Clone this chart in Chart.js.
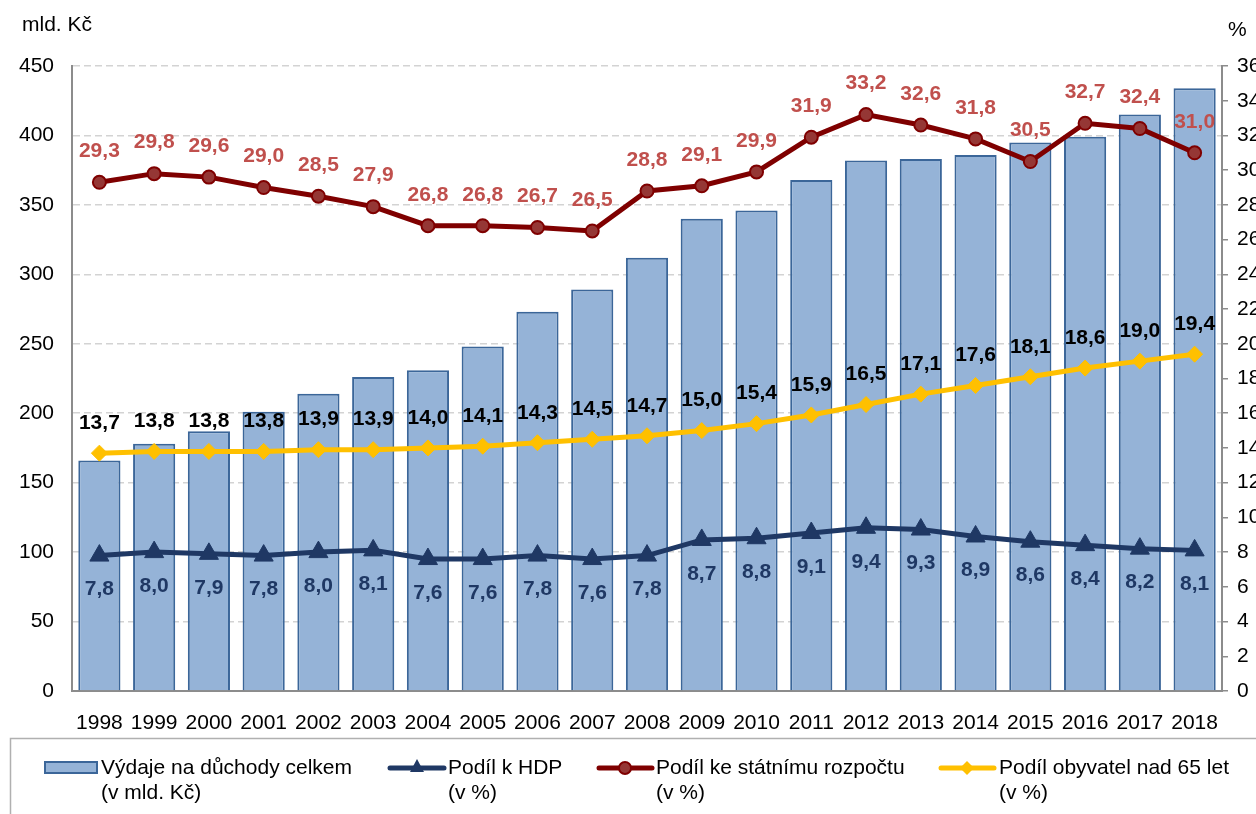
<!DOCTYPE html>
<html>
<head>
<meta charset="utf-8">
<script src="https://cdn.jsdelivr.net/npm/chart.js@4"></script>
<style>
  html, body { margin: 0; padding: 0; background: #fff; }
  #wrap { width: 1256px; height: 814px; position: relative; }
</style>
</head>
<body>
<div id="wrap"><canvas id="duchodyChart" width="1256" height="814"></canvas></div>
<script>
const years = ['1998', '1999', '2000', '2001', '2002', '2003', '2004', '2005', '2006', '2007', '2008',
    '2009', '2010', '2011', '2012', '2013', '2014', '2015', '2016', '2017', '2018'];
// výdaje na důchody celkem (mld. Kč)
const vydaje = [166, 178, 187, 201, 214, 226, 231, 248, 273, 289, 312, 340, 346, 368, 382, 383, 386, 395, 399, 415, 434];
// podíl k HDP (%)
const podilHdp = [7.8, 8.0, 7.9, 7.8, 8.0, 8.1, 7.6, 7.6, 7.8, 7.6, 7.8, 8.7, 8.8, 9.1, 9.4, 9.3, 8.9, 8.6, 8.4, 8.2, 8.1];
// podíl ke státnímu rozpočtu (%)
const podilRozpocet = [29.3, 29.8, 29.6, 29.0, 28.5, 27.9, 26.8, 26.8, 26.7, 26.5, 28.8, 29.1, 29.9, 31.9, 33.2, 32.6, 31.8, 30.5, 32.7, 32.4, 31.0];
// podíl obyvatel nad 65 let (%)
const podil65 = [13.7, 13.8, 13.8, 13.8, 13.9, 13.9, 14.0, 14.1, 14.3, 14.5, 14.7, 15.0, 15.4, 15.9, 16.5, 17.1, 17.6, 18.1, 18.6, 19.0, 19.4];

const FONT = "'Liberation Sans', Arial, sans-serif";
const fmt = (v) => v.toFixed(1).replace('.', ',');

// data labels for the line series
const lineLabels = {
    id: 'lineLabels',
    afterDatasetsDraw(chart) {
        const ctx = chart.ctx;
        ctx.save();
        ctx.font = 'bold 21px ' + FONT;
        ctx.textAlign = 'center';
        ctx.textBaseline = 'middle';
        chart.data.datasets.forEach((ds, i) => {
            if (!ds.labelColor) return;
            const meta = chart.getDatasetMeta(i);
            meta.data.forEach((pt, j) => {
                ctx.fillStyle = ds.labelColor;
                ctx.fillText(fmt(ds.data[j]), pt.x, pt.y + ds.labelOffset);
            });
        });
        ctx.restore();
    }
};

// axis units + legend box
const extras = {
    id: 'extras',
    afterDraw(chart) {
        const ctx = chart.ctx;
        ctx.save();
        ctx.font = '21px ' + FONT;
        ctx.fillStyle = '#000';
        ctx.textBaseline = 'middle';
        ctx.textAlign = 'left';
        ctx.fillText('mld. Kč', 22, 25);
        ctx.fillText('%', 1228, 30);

        // legend frame
        ctx.strokeStyle = '#b0b0b0';
        ctx.lineWidth = 1.5;
        ctx.strokeRect(10.5, 738.5, 1270, 100);

        const y1 = 768, y2 = 793;
        // bar swatch
        ctx.fillStyle = '#95B3D7';
        ctx.fillRect(45, 762, 52, 11);
        ctx.strokeStyle = '#3B6699';
        ctx.lineWidth = 2;
        ctx.strokeRect(45, 762, 52, 11);

        const drawLine = (x0, x1, color, w) => {
            ctx.strokeStyle = color;
            ctx.lineWidth = w;
            ctx.lineCap = 'round';
            ctx.beginPath();
            ctx.moveTo(x0, y1);
            ctx.lineTo(x1, y1);
            ctx.stroke();
        };
        // HDP
        drawLine(390, 444, '#1F3864', 5);
        ctx.fillStyle = '#1F3864';
        ctx.beginPath();
        ctx.moveTo(417, y1 - 9); ctx.lineTo(424, y1 + 4); ctx.lineTo(410, y1 + 4); ctx.closePath();
        ctx.fill();
        // rozpočet
        drawLine(599, 652, '#7F0000', 5);
        ctx.fillStyle = '#953735';
        ctx.strokeStyle = '#7F0000';
        ctx.lineWidth = 2;
        ctx.beginPath(); ctx.arc(625, y1, 6, 0, Math.PI * 2); ctx.fill(); ctx.stroke();
        // 65+
        drawLine(941, 994, '#FFC000', 5);
        ctx.fillStyle = '#FFC000';
        ctx.beginPath();
        ctx.moveTo(967, y1 - 7); ctx.lineTo(974, y1); ctx.lineTo(967, y1 + 7); ctx.lineTo(960, y1); ctx.closePath();
        ctx.fill();

        ctx.fillStyle = '#000';
        ctx.font = '21px ' + FONT;
        ctx.fillText('Výdaje na důchody celkem', 101, y1);
        ctx.fillText('(v mld. Kč)', 101, y2);
        ctx.fillText('Podíl k HDP', 448, y1);
        ctx.fillText('(v %)', 448, y2);
        ctx.fillText('Podíl ke státnímu rozpočtu', 656, y1);
        ctx.fillText('(v %)', 656, y2);
        ctx.fillText('Podíl obyvatel nad 65 let', 999, y1);
        ctx.fillText('(v %)', 999, y2);
        ctx.restore();
    }
};

new Chart(document.getElementById('duchodyChart'), {
    data: {
        labels: years,
        datasets: [
            {
                type: 'line',
                label: 'Podíl k HDP (v %)',
                data: podilHdp,
                yAxisID: 'y1',
                borderColor: '#1F3864',
                backgroundColor: '#1F3864',
                borderWidth: 5,
                pointStyle: 'triangle',
                pointRadius: 11,
                pointBorderWidth: 1,
                tension: 0,
                order: 1,
                labelColor: '#1F3864',
                labelOffset: 34
            },
            {
                type: 'line',
                label: 'Podíl ke státnímu rozpočtu (v %)',
                data: podilRozpocet,
                yAxisID: 'y1',
                borderColor: '#7F0000',
                backgroundColor: '#953735',
                pointBorderColor: '#7F0000',
                borderWidth: 5,
                pointStyle: 'circle',
                pointRadius: 6.5,
                pointBorderWidth: 2,
                tension: 0,
                order: 2,
                labelColor: '#C0504D',
                labelOffset: -31
            },
            {
                type: 'line',
                label: 'Podíl obyvatel nad 65 let (v %)',
                data: podil65,
                yAxisID: 'y1',
                borderColor: '#FFC000',
                backgroundColor: '#FFC000',
                borderWidth: 5,
                pointStyle: 'rectRot',
                pointRadius: 8,
                pointBorderWidth: 1,
                tension: 0,
                order: 3,
                labelColor: '#000000',
                labelOffset: -30
            },
            {
                type: 'bar',
                label: 'Výdaje na důchody celkem (v mld. Kč)',
                data: vydaje,
                yAxisID: 'y',
                backgroundColor: '#95B3D7',
                borderColor: '#3B6699',
                borderWidth: 2,
                categoryPercentage: 1,
                barPercentage: 0.77,
                order: 4
            }
        ]
    },
    options: {
        responsive: false,
        animation: false,
        layout: { padding: { top: 66, bottom: 76, left: 0, right: 0 } },
        plugins: {
            legend: { display: false },
            tooltip: { enabled: false }
        },
        scales: {
            x: {
                offset: true,
                grid: { display: false },
                border: { color: '#8c8c8c', width: 2 },
                ticks: { font: { family: FONT, size: 21 }, color: '#000', maxRotation: 0, autoSkip: false, padding: 12 },
                afterFit: (s) => { s.height = 47; }
            },
            y: {
                position: 'left',
                min: 0,
                max: 450,
                ticks: { stepSize: 50, font: { family: FONT, size: 21 }, color: '#000', padding: 18 },
                grid: { color: '#d3d3d3', lineWidth: 1.5, drawTicks: false },
                border: { dash: [7, 4], color: '#8c8c8c', width: 2 },
                afterFit: (s) => { s.width = 72; }
            },
            y1: {
                position: 'right',
                min: 0,
                max: 36,
                ticks: { stepSize: 2, font: { family: FONT, size: 21 }, color: '#000', padding: 9 },
                grid: { drawOnChartArea: false, drawTicks: true, tickLength: 6, color: '#8c8c8c', lineWidth: 1.5 },
                border: { color: '#8c8c8c', width: 2 },
                afterFit: (s) => { s.width = 34; }
            }
        }
    },
    plugins: [lineLabels, extras]
});
</script>
</body>
</html>
